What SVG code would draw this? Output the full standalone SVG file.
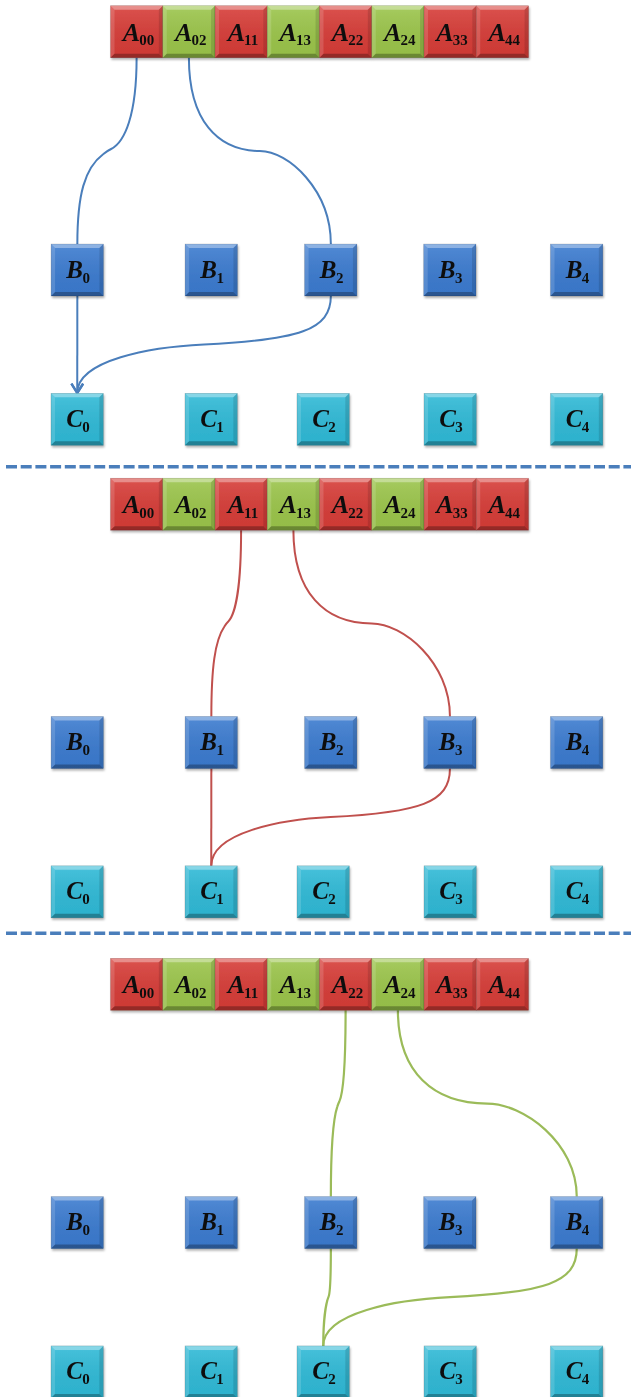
<svg xmlns="http://www.w3.org/2000/svg" xmlns:xlink="http://www.w3.org/1999/xlink" width="631" height="1397" viewBox="0 0 631 1397">
<style>
.red{fill:#d73c37}.grn{fill:#9bc54a}.blu{fill:#3b7bd0}.cyn{fill:#2fbad7}
.lbl{font-family:"Liberation Serif","Times New Roman",serif;font-weight:bold;fill:#111;text-anchor:middle}
.big{font-style:italic;font-size:26px}
.bigb{font-style:italic;font-size:25px}
.sub{font-size:15px}
.cb{fill:none;stroke:#4a7ebb;stroke-width:2}
.cr{fill:none;stroke:#c0504d;stroke-width:2}
.cg{fill:none;stroke:#9bbb59;stroke-width:2.2}
.dash{fill:none;stroke:#4a7ebb;stroke-width:3.5;stroke-dasharray:11 3.7}
.nd{filter:url(#sh)}
</style>
<defs>
<filter id="sh" x="-20%" y="-20%" width="150%" height="150%">
<feDropShadow dx="1" dy="2" stdDeviation="1.2" flood-color="#000" flood-opacity="0.3"/>
</filter>
<linearGradient id="face" x1="0" y1="0" x2="0" y2="1">
<stop offset="0" stop-color="#fff" stop-opacity="0.12"/>
<stop offset="1" stop-color="#000" stop-opacity="0.04"/>
</linearGradient>
<g id="bev">
<rect width="52.3" height="52" fill="url(#face)"/>
<polygon points="0,0 52.3,0 48.3,4 4,4" fill="#fff" fill-opacity="0.35"/>
<polygon points="0,0 4,4 4,48 0,52" fill="#fff" fill-opacity="0.15"/>
<polygon points="52.3,0 52.3,52 48.3,48 48.3,4" fill="#000" fill-opacity="0.12"/>
<polygon points="0,52 52.3,52 48.3,48 4,48" fill="#000" fill-opacity="0.28"/>
<rect width="52.3" height="52" fill="none" stroke="#000" stroke-opacity="0.2" stroke-width="0.6"/>
</g>
<marker id="arr" markerUnits="userSpaceOnUse" markerWidth="14" markerHeight="14" refX="10" refY="6" viewBox="0 0 12 12" orient="auto">
<path d="M2,1 L10,6 L2,11" fill="none" stroke="#4a7ebb" stroke-width="2"/>
</marker>
</defs>

<g id="separators">
<line class="dash" x1="6" y1="466.7" x2="631" y2="466.7"/>
<line class="dash" x1="6" y1="933.3" x2="631" y2="933.3"/>
</g>

<!-- SECTION 1 -->
<g id="section1">
<g id="s1-connectors">
<path class="cb" d="M136.6,57.7 C136.6,115 124.8,142 111.1,149 Q107,151 103.4,154 C84.5,168 77.35,195 77.35,244"/>
<path class="cb" d="M188.9,57.7 C188.9,120 217.3,151 259.9,151 C288.3,151 330.85,190 330.85,244"/>
<path class="cb" d="M77.35,296 L77.25,393" marker-end="url(#arr)"/>
<path class="cb" d="M330.85,296 C330.85,330 298.9,340 204.05,344.5 C150.8,347 77.25,360 77.25,393" marker-end="url(#arr)"/>
</g>
<g id="s1-A00" class="nd" transform="translate(110.5,5.7)"><rect class="red" width="52.3" height="52"/><use xlink:href="#bev"/><text class="lbl" x="28" y="35"><tspan class="big">A</tspan><tspan class="sub" dx="-1" dy="4.5">00</tspan></text></g>
<g id="s1-A02" class="nd" transform="translate(162.75,5.7)"><rect class="grn" width="52.3" height="52"/><use xlink:href="#bev"/><text class="lbl" x="28" y="35"><tspan class="big">A</tspan><tspan class="sub" dx="-1" dy="4.5">02</tspan></text></g>
<g id="s1-A11" class="nd" transform="translate(215,5.7)"><rect class="red" width="52.3" height="52"/><use xlink:href="#bev"/><text class="lbl" x="28" y="35"><tspan class="big">A</tspan><tspan class="sub" dx="-1" dy="4.5">11</tspan></text></g>
<g id="s1-A13" class="nd" transform="translate(267.25,5.7)"><rect class="grn" width="52.3" height="52"/><use xlink:href="#bev"/><text class="lbl" x="28" y="35"><tspan class="big">A</tspan><tspan class="sub" dx="-1" dy="4.5">13</tspan></text></g>
<g id="s1-A22" class="nd" transform="translate(319.5,5.7)"><rect class="red" width="52.3" height="52"/><use xlink:href="#bev"/><text class="lbl" x="28" y="35"><tspan class="big">A</tspan><tspan class="sub" dx="-1" dy="4.5">22</tspan></text></g>
<g id="s1-A24" class="nd" transform="translate(371.75,5.7)"><rect class="grn" width="52.3" height="52"/><use xlink:href="#bev"/><text class="lbl" x="28" y="35"><tspan class="big">A</tspan><tspan class="sub" dx="-1" dy="4.5">24</tspan></text></g>
<g id="s1-A33" class="nd" transform="translate(424,5.7)"><rect class="red" width="52.3" height="52"/><use xlink:href="#bev"/><text class="lbl" x="28" y="35"><tspan class="big">A</tspan><tspan class="sub" dx="-1" dy="4.5">33</tspan></text></g>
<g id="s1-A44" class="nd" transform="translate(476.25,5.7)"><rect class="red" width="52.3" height="52"/><use xlink:href="#bev"/><text class="lbl" x="28" y="35"><tspan class="big">A</tspan><tspan class="sub" dx="-1" dy="4.5">44</tspan></text></g>
<g id="s1-B0" class="nd" transform="translate(51.1,244)"><rect class="blu" width="52.3" height="52"/><use xlink:href="#bev"/><text class="lbl" x="27" y="33.5"><tspan class="bigb">B</tspan><tspan class="sub" dx="-0.5" dy="5">0</tspan></text></g>
<g id="s1-B1" class="nd" transform="translate(185.1,244)"><rect class="blu" width="52.3" height="52"/><use xlink:href="#bev"/><text class="lbl" x="27" y="33.5"><tspan class="bigb">B</tspan><tspan class="sub" dx="-0.5" dy="5">1</tspan></text></g>
<g id="s1-B2" class="nd" transform="translate(304.6,244)"><rect class="blu" width="52.3" height="52"/><use xlink:href="#bev"/><text class="lbl" x="27" y="33.5"><tspan class="bigb">B</tspan><tspan class="sub" dx="-0.5" dy="5">2</tspan></text></g>
<g id="s1-B3" class="nd" transform="translate(423.7,244)"><rect class="blu" width="52.3" height="52"/><use xlink:href="#bev"/><text class="lbl" x="27" y="33.5"><tspan class="bigb">B</tspan><tspan class="sub" dx="-0.5" dy="5">3</tspan></text></g>
<g id="s1-B4" class="nd" transform="translate(550.5,244)"><rect class="blu" width="52.3" height="52"/><use xlink:href="#bev"/><text class="lbl" x="27" y="33.5"><tspan class="bigb">B</tspan><tspan class="sub" dx="-0.5" dy="5">4</tspan></text></g>
<g id="s1-C0" class="nd" transform="translate(51,393.3)"><rect class="cyn" width="52.3" height="52"/><use xlink:href="#bev"/><text class="lbl" x="27" y="33.5"><tspan class="bigb">C</tspan><tspan class="sub" dx="-0.5" dy="5">0</tspan></text></g>
<g id="s1-C1" class="nd" transform="translate(185,393.3)"><rect class="cyn" width="52.3" height="52"/><use xlink:href="#bev"/><text class="lbl" x="27" y="33.5"><tspan class="bigb">C</tspan><tspan class="sub" dx="-0.5" dy="5">1</tspan></text></g>
<g id="s1-C2" class="nd" transform="translate(297,393.3)"><rect class="cyn" width="52.3" height="52"/><use xlink:href="#bev"/><text class="lbl" x="27" y="33.5"><tspan class="bigb">C</tspan><tspan class="sub" dx="-0.5" dy="5">2</tspan></text></g>
<g id="s1-C3" class="nd" transform="translate(424,393.3)"><rect class="cyn" width="52.3" height="52"/><use xlink:href="#bev"/><text class="lbl" x="27" y="33.5"><tspan class="bigb">C</tspan><tspan class="sub" dx="-0.5" dy="5">3</tspan></text></g>
<g id="s1-C4" class="nd" transform="translate(550.5,393.3)"><rect class="cyn" width="52.3" height="52"/><use xlink:href="#bev"/><text class="lbl" x="27" y="33.5"><tspan class="bigb">C</tspan><tspan class="sub" dx="-0.5" dy="5">4</tspan></text></g>
</g>

<!-- SECTION 2 -->
<g id="section2" transform="translate(0,472.5)">
<g id="s2-connectors">
<path class="cr" d="M241.1,57.7 C241.1,115 235.15,142 228.3,149 Q226.2,151 224.4,154 C214.9,168 211.35,195 211.35,244"/>
<path class="cr" d="M293.4,57.7 C293.4,120 324.7,151 371.7,151 C403,151 449.95,190 449.95,244"/>
<path class="cr" d="M211.35,296 L211.25,393.3"/>
<path class="cr" d="M449.95,296 C449.95,330 419.9,340 330.6,344.5 C280.5,347 211.25,360 211.25,393.3"/>
</g>
<g id="s2-A00" class="nd" transform="translate(110.5,5.7)"><rect class="red" width="52.3" height="52"/><use xlink:href="#bev"/><text class="lbl" x="28" y="35"><tspan class="big">A</tspan><tspan class="sub" dx="-1" dy="4.5">00</tspan></text></g>
<g id="s2-A02" class="nd" transform="translate(162.75,5.7)"><rect class="grn" width="52.3" height="52"/><use xlink:href="#bev"/><text class="lbl" x="28" y="35"><tspan class="big">A</tspan><tspan class="sub" dx="-1" dy="4.5">02</tspan></text></g>
<g id="s2-A11" class="nd" transform="translate(215,5.7)"><rect class="red" width="52.3" height="52"/><use xlink:href="#bev"/><text class="lbl" x="28" y="35"><tspan class="big">A</tspan><tspan class="sub" dx="-1" dy="4.5">11</tspan></text></g>
<g id="s2-A13" class="nd" transform="translate(267.25,5.7)"><rect class="grn" width="52.3" height="52"/><use xlink:href="#bev"/><text class="lbl" x="28" y="35"><tspan class="big">A</tspan><tspan class="sub" dx="-1" dy="4.5">13</tspan></text></g>
<g id="s2-A22" class="nd" transform="translate(319.5,5.7)"><rect class="red" width="52.3" height="52"/><use xlink:href="#bev"/><text class="lbl" x="28" y="35"><tspan class="big">A</tspan><tspan class="sub" dx="-1" dy="4.5">22</tspan></text></g>
<g id="s2-A24" class="nd" transform="translate(371.75,5.7)"><rect class="grn" width="52.3" height="52"/><use xlink:href="#bev"/><text class="lbl" x="28" y="35"><tspan class="big">A</tspan><tspan class="sub" dx="-1" dy="4.5">24</tspan></text></g>
<g id="s2-A33" class="nd" transform="translate(424,5.7)"><rect class="red" width="52.3" height="52"/><use xlink:href="#bev"/><text class="lbl" x="28" y="35"><tspan class="big">A</tspan><tspan class="sub" dx="-1" dy="4.5">33</tspan></text></g>
<g id="s2-A44" class="nd" transform="translate(476.25,5.7)"><rect class="red" width="52.3" height="52"/><use xlink:href="#bev"/><text class="lbl" x="28" y="35"><tspan class="big">A</tspan><tspan class="sub" dx="-1" dy="4.5">44</tspan></text></g>
<g id="s2-B0" class="nd" transform="translate(51.1,244)"><rect class="blu" width="52.3" height="52"/><use xlink:href="#bev"/><text class="lbl" x="27" y="33.5"><tspan class="bigb">B</tspan><tspan class="sub" dx="-0.5" dy="5">0</tspan></text></g>
<g id="s2-B1" class="nd" transform="translate(185.1,244)"><rect class="blu" width="52.3" height="52"/><use xlink:href="#bev"/><text class="lbl" x="27" y="33.5"><tspan class="bigb">B</tspan><tspan class="sub" dx="-0.5" dy="5">1</tspan></text></g>
<g id="s2-B2" class="nd" transform="translate(304.6,244)"><rect class="blu" width="52.3" height="52"/><use xlink:href="#bev"/><text class="lbl" x="27" y="33.5"><tspan class="bigb">B</tspan><tspan class="sub" dx="-0.5" dy="5">2</tspan></text></g>
<g id="s2-B3" class="nd" transform="translate(423.7,244)"><rect class="blu" width="52.3" height="52"/><use xlink:href="#bev"/><text class="lbl" x="27" y="33.5"><tspan class="bigb">B</tspan><tspan class="sub" dx="-0.5" dy="5">3</tspan></text></g>
<g id="s2-B4" class="nd" transform="translate(550.5,244)"><rect class="blu" width="52.3" height="52"/><use xlink:href="#bev"/><text class="lbl" x="27" y="33.5"><tspan class="bigb">B</tspan><tspan class="sub" dx="-0.5" dy="5">4</tspan></text></g>
<g id="s2-C0" class="nd" transform="translate(51,393.3)"><rect class="cyn" width="52.3" height="52"/><use xlink:href="#bev"/><text class="lbl" x="27" y="33.5"><tspan class="bigb">C</tspan><tspan class="sub" dx="-0.5" dy="5">0</tspan></text></g>
<g id="s2-C1" class="nd" transform="translate(185,393.3)"><rect class="cyn" width="52.3" height="52"/><use xlink:href="#bev"/><text class="lbl" x="27" y="33.5"><tspan class="bigb">C</tspan><tspan class="sub" dx="-0.5" dy="5">1</tspan></text></g>
<g id="s2-C2" class="nd" transform="translate(297,393.3)"><rect class="cyn" width="52.3" height="52"/><use xlink:href="#bev"/><text class="lbl" x="27" y="33.5"><tspan class="bigb">C</tspan><tspan class="sub" dx="-0.5" dy="5">2</tspan></text></g>
<g id="s2-C3" class="nd" transform="translate(424,393.3)"><rect class="cyn" width="52.3" height="52"/><use xlink:href="#bev"/><text class="lbl" x="27" y="33.5"><tspan class="bigb">C</tspan><tspan class="sub" dx="-0.5" dy="5">3</tspan></text></g>
<g id="s2-C4" class="nd" transform="translate(550.5,393.3)"><rect class="cyn" width="52.3" height="52"/><use xlink:href="#bev"/><text class="lbl" x="27" y="33.5"><tspan class="bigb">C</tspan><tspan class="sub" dx="-0.5" dy="5">4</tspan></text></g>
</g>

<!-- SECTION 3 -->
<g id="section3" transform="translate(0,952.6)">
<g id="s3-connectors">
<path class="cg" d="M345.6,57.7 C345.6,115 342.65,142 339.3,149 Q338.2,151 337.3,154 C332.6,168 330.85,195 330.85,244"/>
<path class="cg" d="M397.9,57.7 C397.9,120 433.7,151 487.3,151 C523.1,151 576.75,190 576.75,244"/>
<path class="cg" d="M330.85,296 C330.85,325 330.3,340 328.6,344 C326.5,349 323.25,365 323.25,393.3"/>
<path class="cg" d="M576.75,296 C576.75,330 544.8,340 450,344.5 C396.8,347 323.25,360 323.25,393.3"/>
</g>
<g id="s3-A00" class="nd" transform="translate(110.5,5.7)"><rect class="red" width="52.3" height="52"/><use xlink:href="#bev"/><text class="lbl" x="28" y="35"><tspan class="big">A</tspan><tspan class="sub" dx="-1" dy="4.5">00</tspan></text></g>
<g id="s3-A02" class="nd" transform="translate(162.75,5.7)"><rect class="grn" width="52.3" height="52"/><use xlink:href="#bev"/><text class="lbl" x="28" y="35"><tspan class="big">A</tspan><tspan class="sub" dx="-1" dy="4.5">02</tspan></text></g>
<g id="s3-A11" class="nd" transform="translate(215,5.7)"><rect class="red" width="52.3" height="52"/><use xlink:href="#bev"/><text class="lbl" x="28" y="35"><tspan class="big">A</tspan><tspan class="sub" dx="-1" dy="4.5">11</tspan></text></g>
<g id="s3-A13" class="nd" transform="translate(267.25,5.7)"><rect class="grn" width="52.3" height="52"/><use xlink:href="#bev"/><text class="lbl" x="28" y="35"><tspan class="big">A</tspan><tspan class="sub" dx="-1" dy="4.5">13</tspan></text></g>
<g id="s3-A22" class="nd" transform="translate(319.5,5.7)"><rect class="red" width="52.3" height="52"/><use xlink:href="#bev"/><text class="lbl" x="28" y="35"><tspan class="big">A</tspan><tspan class="sub" dx="-1" dy="4.5">22</tspan></text></g>
<g id="s3-A24" class="nd" transform="translate(371.75,5.7)"><rect class="grn" width="52.3" height="52"/><use xlink:href="#bev"/><text class="lbl" x="28" y="35"><tspan class="big">A</tspan><tspan class="sub" dx="-1" dy="4.5">24</tspan></text></g>
<g id="s3-A33" class="nd" transform="translate(424,5.7)"><rect class="red" width="52.3" height="52"/><use xlink:href="#bev"/><text class="lbl" x="28" y="35"><tspan class="big">A</tspan><tspan class="sub" dx="-1" dy="4.5">33</tspan></text></g>
<g id="s3-A44" class="nd" transform="translate(476.25,5.7)"><rect class="red" width="52.3" height="52"/><use xlink:href="#bev"/><text class="lbl" x="28" y="35"><tspan class="big">A</tspan><tspan class="sub" dx="-1" dy="4.5">44</tspan></text></g>
<g id="s3-B0" class="nd" transform="translate(51.1,244)"><rect class="blu" width="52.3" height="52"/><use xlink:href="#bev"/><text class="lbl" x="27" y="33.5"><tspan class="bigb">B</tspan><tspan class="sub" dx="-0.5" dy="5">0</tspan></text></g>
<g id="s3-B1" class="nd" transform="translate(185.1,244)"><rect class="blu" width="52.3" height="52"/><use xlink:href="#bev"/><text class="lbl" x="27" y="33.5"><tspan class="bigb">B</tspan><tspan class="sub" dx="-0.5" dy="5">1</tspan></text></g>
<g id="s3-B2" class="nd" transform="translate(304.6,244)"><rect class="blu" width="52.3" height="52"/><use xlink:href="#bev"/><text class="lbl" x="27" y="33.5"><tspan class="bigb">B</tspan><tspan class="sub" dx="-0.5" dy="5">2</tspan></text></g>
<g id="s3-B3" class="nd" transform="translate(423.7,244)"><rect class="blu" width="52.3" height="52"/><use xlink:href="#bev"/><text class="lbl" x="27" y="33.5"><tspan class="bigb">B</tspan><tspan class="sub" dx="-0.5" dy="5">3</tspan></text></g>
<g id="s3-B4" class="nd" transform="translate(550.5,244)"><rect class="blu" width="52.3" height="52"/><use xlink:href="#bev"/><text class="lbl" x="27" y="33.5"><tspan class="bigb">B</tspan><tspan class="sub" dx="-0.5" dy="5">4</tspan></text></g>
<g id="s3-C0" class="nd" transform="translate(51,393.3)"><rect class="cyn" width="52.3" height="52"/><use xlink:href="#bev"/><text class="lbl" x="27" y="33.5"><tspan class="bigb">C</tspan><tspan class="sub" dx="-0.5" dy="5">0</tspan></text></g>
<g id="s3-C1" class="nd" transform="translate(185,393.3)"><rect class="cyn" width="52.3" height="52"/><use xlink:href="#bev"/><text class="lbl" x="27" y="33.5"><tspan class="bigb">C</tspan><tspan class="sub" dx="-0.5" dy="5">1</tspan></text></g>
<g id="s3-C2" class="nd" transform="translate(297,393.3)"><rect class="cyn" width="52.3" height="52"/><use xlink:href="#bev"/><text class="lbl" x="27" y="33.5"><tspan class="bigb">C</tspan><tspan class="sub" dx="-0.5" dy="5">2</tspan></text></g>
<g id="s3-C3" class="nd" transform="translate(424,393.3)"><rect class="cyn" width="52.3" height="52"/><use xlink:href="#bev"/><text class="lbl" x="27" y="33.5"><tspan class="bigb">C</tspan><tspan class="sub" dx="-0.5" dy="5">3</tspan></text></g>
<g id="s3-C4" class="nd" transform="translate(550.5,393.3)"><rect class="cyn" width="52.3" height="52"/><use xlink:href="#bev"/><text class="lbl" x="27" y="33.5"><tspan class="bigb">C</tspan><tspan class="sub" dx="-0.5" dy="5">4</tspan></text></g>
</g>
</svg>
